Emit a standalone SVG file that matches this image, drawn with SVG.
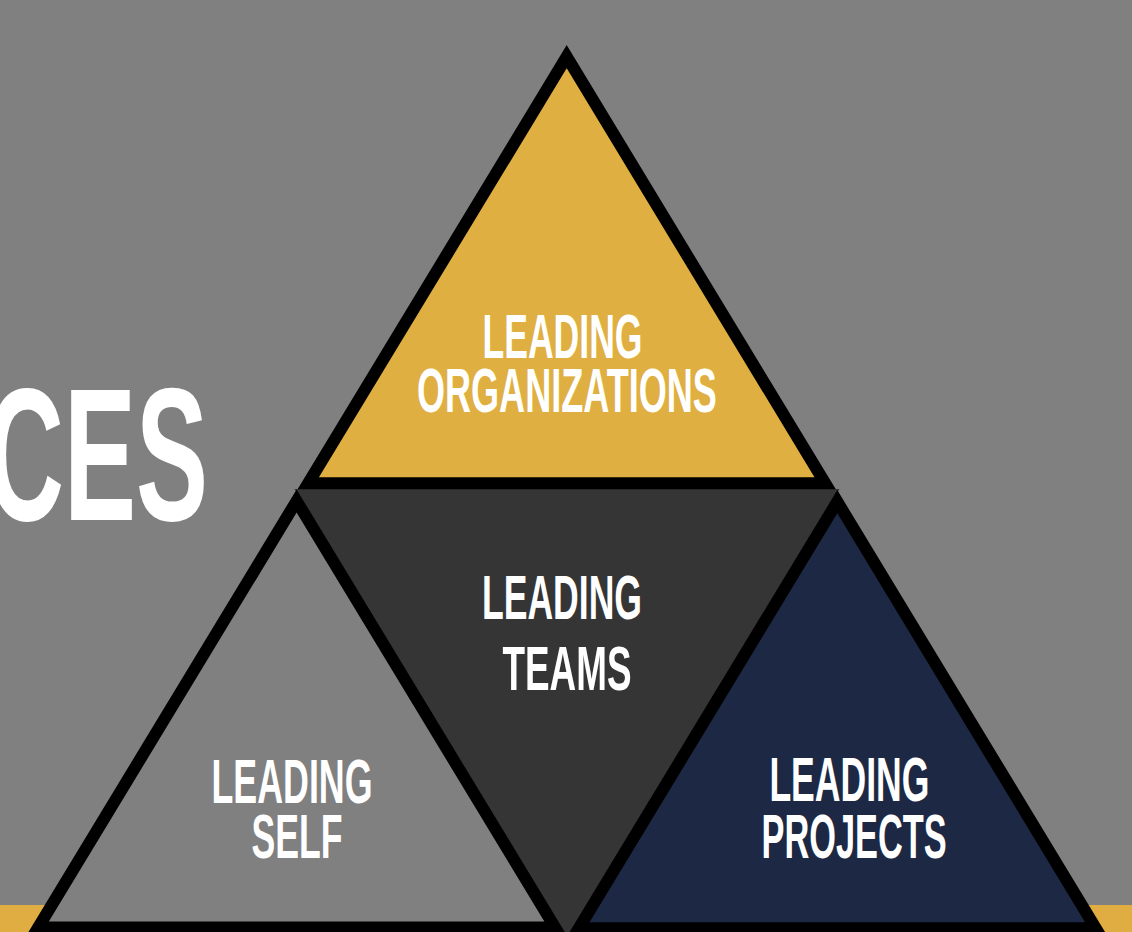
<svg xmlns="http://www.w3.org/2000/svg" width="1132" height="932" viewBox="0 0 1132 932">
<style>
.tri{stroke:#000;stroke-width:12;stroke-linejoin:miter}
.lbl{font-family:"Liberation Sans Narrow","Liberation Sans",Arial,sans-serif;font-weight:bold;font-size:63px;fill:#fff;text-anchor:middle}
.big{font-family:"Liberation Sans Narrow","Liberation Sans",Arial,sans-serif;font-weight:bold;font-size:189px;fill:#fff}
</style>
<rect x="0" y="0" width="1132" height="932" fill="#808080"/>
<rect x="0" y="905" width="1132" height="27" fill="#DFAD42"/>
<text class="big" x="-14" y="520" textLength="222" lengthAdjust="spacingAndGlyphs">CES</text>
<g id="connectors"/>
<g id="node-teams">
<polygon points="294.5,489 839.5,489 567,939" fill="#353535"/>
<text class="lbl" x="562" y="618.5" textLength="160" lengthAdjust="spacingAndGlyphs">LEADING</text>
<text class="lbl" x="567" y="690" textLength="129" lengthAdjust="spacingAndGlyphs">TEAMS</text>
</g>
<g id="node-self">
<polygon class="tri" points="296.6,501 555.1,927.6 38.1,927.6" fill="#808080"/>
<text class="lbl" x="292" y="803" textLength="161" lengthAdjust="spacingAndGlyphs">LEADING</text>
<text class="lbl" x="297" y="858" textLength="91" lengthAdjust="spacingAndGlyphs">SELF</text>
</g>
<g id="node-projects">
<polygon class="tri" points="837.3,501.7 1095.8,928.3 578.8,928.3" fill="#1D2944"/>
<text class="lbl" x="849.4" y="800.5" textLength="160" lengthAdjust="spacingAndGlyphs">LEADING</text>
<text class="lbl" x="854.1" y="857.5" textLength="185" lengthAdjust="spacingAndGlyphs">PROJECTS</text>
</g>
<g id="node-organizations">
<polygon class="tri" points="566.7,56.7 825.2,483.3 308.2,483.3" fill="#E0AF41"/>
<text class="lbl" x="562.5" y="357.5" textLength="160" lengthAdjust="spacingAndGlyphs">LEADING</text>
<text class="lbl" x="566.9" y="411.5" textLength="300" lengthAdjust="spacingAndGlyphs">ORGANIZATIONS</text>
</g>
</svg>
